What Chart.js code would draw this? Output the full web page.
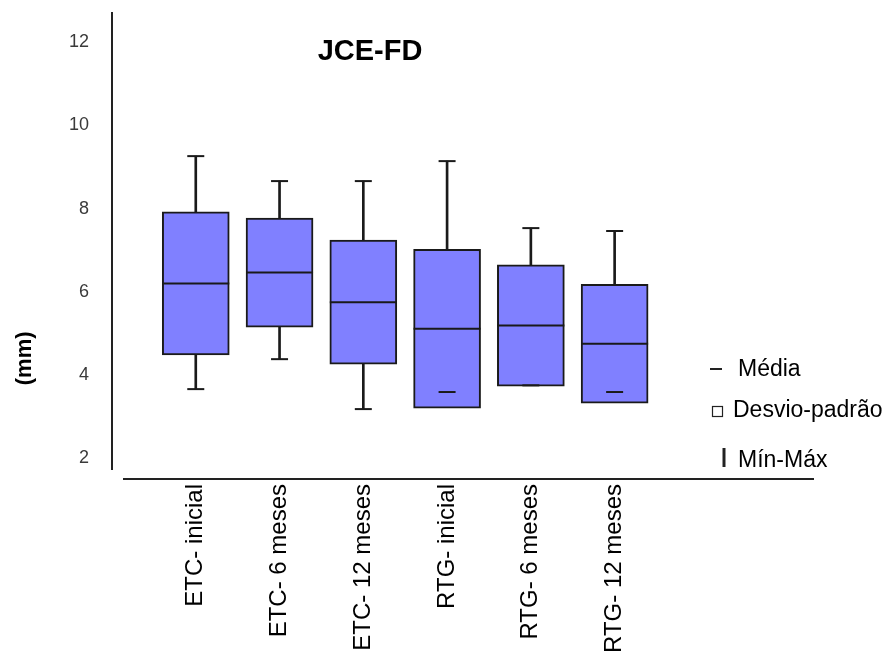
<!DOCTYPE html>
<html>
<head>
<meta charset="utf-8">
<title>JCE-FD</title>
<script src="https://cdn.jsdelivr.net/npm/chart.js@4.4.1/dist/chart.umd.min.js"></script>
<style>
  body { margin: 0; background: #fff; }
  canvas { display: block; }
</style>
</head>
<body>
<canvas id="chart" width="894" height="654"></canvas>
<script>
const categories = ['ETC- inicial', 'ETC- 6 meses', 'ETC- 12 meses', 'RTG- inicial', 'RTG- 6 meses', 'RTG- 12 meses'];
const media = [6.20, 6.46, 5.75, 5.11, 5.19, 4.75];
const desvio = [1.72, 1.31, 1.49, 1.91, 1.46, 1.43];
const minimo = [3.66, 4.38, 3.18, 3.59, 3.75, 3.59];
const maximo = [9.26, 8.66, 8.66, 9.14, 7.53, 7.46];
const yTicks = [2, 4, 6, 8, 10, 12];

const BOX_COLOR = '#8080ff';
const LINE_COLOR = '#1a1a1a';
const FONT = '"Liberation Sans", Arial, sans-serif';

Chart.defaults.font.family = FONT;

const boxData = categories.map((_, i) => ({ x: i, y: [media[i] - desvio[i], media[i] + desvio[i]] }));
const whiskerData = categories.map((_, i) => ({ x: i, y: [minimo[i], maximo[i]] }));
const points = arr => arr.map((v, i) => ({ x: i, y: v }));

// title, axis name, the detached bottom axis and the hand made legend
const extras = {
  id: 'extras',
  afterDraw(chart) {
    const { ctx, chartArea: area, scales: { x, y } } = chart;
    ctx.save();
    ctx.strokeStyle = '#222';
    ctx.fillStyle = '#000';

    ctx.lineWidth = 2;
    ctx.beginPath();
    ctx.moveTo(area.left + 11, area.bottom + 10);
    ctx.lineTo(area.right, area.bottom + 10);
    ctx.stroke();

    ctx.textAlign = 'center';
    ctx.textBaseline = 'alphabetic';
    ctx.font = 'bold 29px ' + FONT;
    ctx.fillText('JCE-FD', x.getPixelForValue(2.08), y.getPixelForValue(11.57));

    ctx.save();
    ctx.translate(25, y.getPixelForValue(4.4));
    ctx.rotate(-Math.PI / 2);
    ctx.textBaseline = 'middle';
    ctx.font = 'bold 22px ' + FONT;
    ctx.fillText('(mm)', 0, 0);
    ctx.restore();

    // legend
    const lx = area.right - 104;
    ctx.font = '23px ' + FONT;
    ctx.textAlign = 'left';

    ctx.beginPath();
    ctx.moveTo(lx, area.bottom - 100);
    ctx.lineTo(lx + 12, area.bottom - 100);
    ctx.stroke();
    ctx.fillText('Média', lx + 28, area.bottom - 93);

    ctx.lineWidth = 1.2;
    ctx.strokeRect(lx + 2.5, area.bottom - 62.5, 10, 10);
    ctx.fillText('Desvio-padrão', lx + 23, area.bottom - 52);

    ctx.lineWidth = 3;
    ctx.beginPath();
    ctx.moveTo(lx + 14, area.bottom - 21);
    ctx.lineTo(lx + 14, area.bottom - 2);
    ctx.stroke();
    ctx.fillText('Mín-Máx', lx + 28, area.bottom - 2);

    ctx.restore();
  }
};

new Chart(document.getElementById('chart'), {
  type: 'bar',
  data: {
    datasets: [
      {
        type: 'line', label: 'Média', data: points(media), showLine: false,
        pointStyle: 'line', pointRadius: 33.5, pointBorderWidth: 2, pointBorderColor: LINE_COLOR,
        borderColor: LINE_COLOR, order: 0
      },
      {
        type: 'line', label: 'Máx', data: points(maximo), showLine: false,
        pointStyle: 'line', pointRadius: 8.5, pointBorderWidth: 2, pointBorderColor: LINE_COLOR,
        borderColor: LINE_COLOR, order: 1
      },
      {
        type: 'line', label: 'Mín', data: points(minimo), showLine: false,
        pointStyle: 'line', pointRadius: 8.5, pointBorderWidth: 2, pointBorderColor: LINE_COLOR,
        borderColor: LINE_COLOR, order: 1
      },
      {
        label: 'Desvio-padrão', data: boxData, backgroundColor: BOX_COLOR,
        borderColor: LINE_COLOR, borderWidth: 2, borderSkipped: false,
        barThickness: 67, grouped: false, order: 2
      },
      {
        label: 'Mín-Máx', data: whiskerData, backgroundColor: LINE_COLOR,
        borderWidth: 0, barThickness: 2, grouped: false, order: 3
      }
    ]
  },
  options: {
    responsive: false,
    animation: false,
    layout: { autoPadding: false, padding: { top: 13, right: 80, left: 0, bottom: 0 } },
    plugins: { legend: { display: false }, tooltip: { enabled: false } },
    scales: {
      x: {
        type: 'linear', min: -1, max: 7.38, offset: false,
        grid: { display: false, drawTicks: false },
        border: { display: false },
        afterBuildTicks: s => { s.ticks = categories.map((_, i) => ({ value: i })); },
        afterFit: s => { s.height = 185; s.paddingLeft = 0; s.paddingRight = 0; },
        ticks: {
          autoSkip: false, minRotation: 90, maxRotation: 90, padding: 15,
          color: '#000', font: { size: 24 },
          callback: v => categories[v]
        }
      },
      y: {
        min: 1.74, max: 12.7,
        grid: { display: false, drawTicks: false },
        border: { display: true, color: '#222', width: 2 },
        afterBuildTicks: s => { s.ticks = yTicks.map(v => ({ value: v })); },
        afterFit: s => { s.width = 112; s.paddingTop = 0; s.paddingBottom = 0; },
        ticks: { padding: 23, color: '#3a3a3a', font: { size: 18 } }
      }
    }
  },
  plugins: [extras]
});
</script>
</body>
</html>
